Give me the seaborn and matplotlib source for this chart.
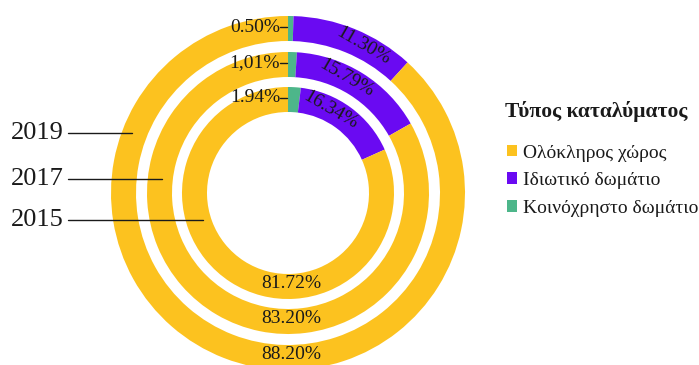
import matplotlib
matplotlib.use("Agg")
import matplotlib.pyplot as plt
import seaborn as sns
from matplotlib.patches import Patch
import numpy as np

# ---- data ----
years = ["2019", "2017", "2015"]
categories = ["Κοινόχρηστο δωμάτιο", "Ιδιωτικό δωμάτιο", "Ολόκληρος χώρος"]
shared = [0.50, 1.01, 1.94]
private = [11.30, 15.79, 16.34]
entire = [88.20, 83.20, 81.72]
shared_labels = ["0.50%", "1,01%", "1.94%"]
private_labels = ["11.30%", "15.79%", "16.34%"]
entire_labels = ["88.20%", "83.20%", "81.72%"]
legend_title = "Τύπος καταλύματος"
legend_order = ["Ολόκληρος χώρος", "Ιδιωτικό δωμάτιο", "Κοινόχρηστο δωμάτιο"]

sns.set_theme(style="white")
plt.rcParams['font.family'] = ['Liberation Serif', 'DejaVu Serif']

colors = {"Ολόκληρος χώρος": "#FCC21F",
          "Ιδιωτικό δωμάτιο": "#6A0AF2",
          "Κοινόχρηστο δωμάτιο": "#4DB68A"}

W, H = 699, 365
fig = plt.figure(figsize=(W / 100, H / 100), dpi=100)
ax = fig.add_axes([0, 0, 1, 1])

cx, cy = 288, H - 193
outer_r = [177, 141, 106]
ring_w = 25

for i in range(3):
    vals = [shared[i], private[i], entire[i]]
    cols = [colors[c] for c in categories]
    ax.pie(vals, radius=outer_r[i], center=(cx, cy), startangle=90,
           counterclock=False, colors=cols,
           wedgeprops=dict(width=ring_w, linewidth=0), frame=True)
    rmid = outer_r[i] - ring_w / 2
    # shared label with short leader
    ty = cy + rmid + 1.5
    ax.text(cx - 8, ty, shared_labels[i], ha="right", va="center", fontsize=14, color="#1a1a1a")
    ax.plot([cx - 8, cx - 1], [ty, ty], color="#1a1a1a", lw=1)
    # private label along arc
    ang = np.deg2rad(27)
    px = cx + rmid * np.sin(ang)
    py = cy + rmid * np.cos(ang)
    ax.text(px, py, private_labels[i], ha="center", va="center", fontsize=14,
            rotation=-30, rotation_mode="anchor", color="#1a1a1a")
    # entire label at bottom
    ax.text(cx + 3, cy - rmid + 3, entire_labels[i], ha="center", va="center",
            fontsize=14, color="#1a1a1a")

# year labels with leader lines
year_y = [133, 179, 220]
line_end = [132, 162, 203]
for yl, yy, xe in zip(years, year_y, line_end):
    ax.text(11, H - yy, yl, ha="left", va="center", fontsize=19, color="#1a1a1a")
    ax.plot([68, xe], [H - yy, H - yy], color="#1a1a1a", lw=1)

ax.set_xlim(0, W)
ax.set_ylim(0, H)
ax.set_aspect("equal")
ax.axis("off")

ax.text(505, H - 111, legend_title, ha="left", va="center", fontsize=15.5,
        fontweight="bold", color="#1a1a1a")
handles = [Patch(facecolor=colors[c], edgecolor="none") for c in legend_order]
leg = ax.legend(handles, legend_order, loc="upper left",
                bbox_to_anchor=(489 / W, 1 - 127 / H), frameon=False, fontsize=14,
                handlelength=0.55, handleheight=0.55, handletextpad=0.3,
                labelspacing=0.55, labelcolor="#1a1a1a")

fig.savefig("out.png", dpi=100)
